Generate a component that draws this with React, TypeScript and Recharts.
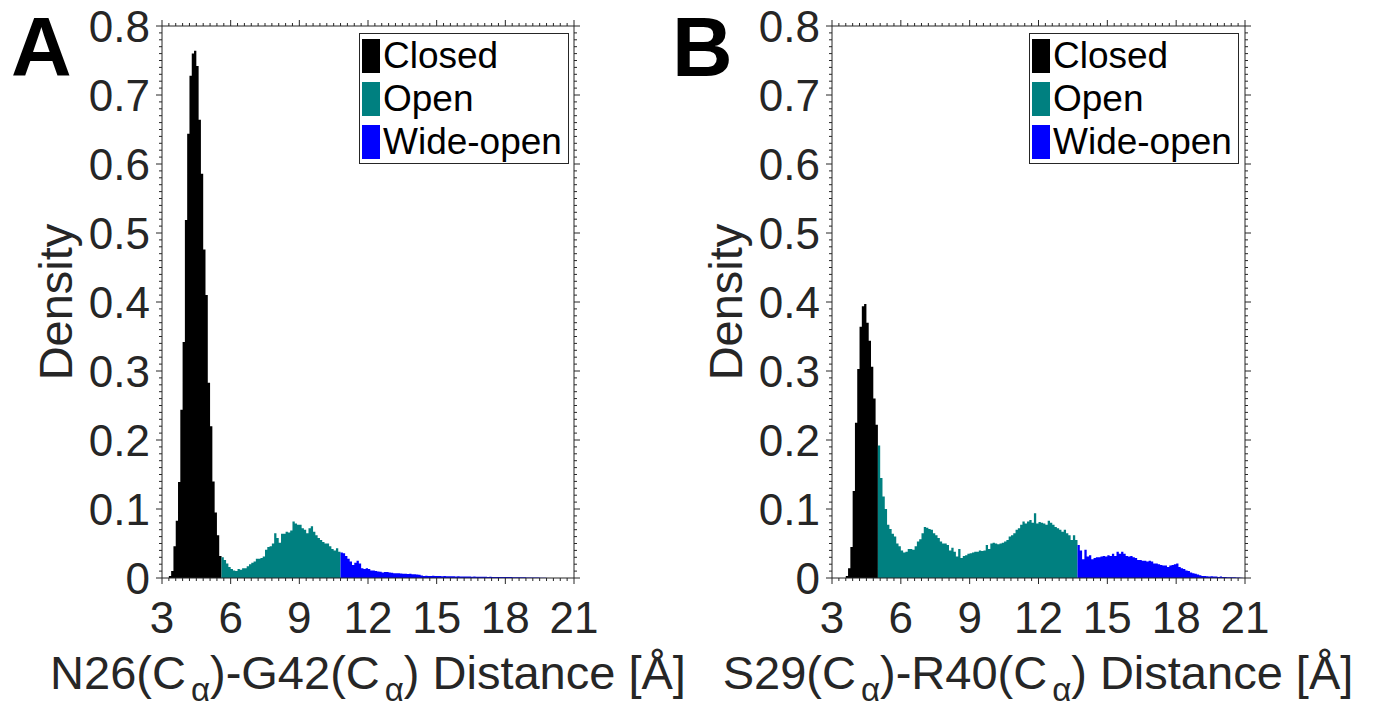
import React from 'react';
import { ComposedChart, Area, XAxis, YAxis, Legend } from 'recharts';

const FONT = '"Liberation Sans", Arial, Helvetica, sans-serif';
const INK = '#262626';

// ---------- series meta ----------
const SERIES = [
  { key: 'closed', name: 'Closed', color: '#000000' },
  { key: 'open', name: 'Open', color: '#008080' },
  { key: 'wide', name: 'Wide-open', color: '#0000FF' },
];

// ---------- axes ----------
const X_DOMAIN: [number, number] = [3, 21];
const Y_DOMAIN: [number, number] = [0, 0.8];
const X_TICK_LABELS = [3, 6, 9, 12, 15, 18, 21];
const Y_TICK_LABELS = [0, 0.1, 0.2, 0.3, 0.4, 0.5, 0.6, 0.7, 0.8];
const BIN_WIDTH = 0.1;

// ---------- Panel A: N26(Ca)-G42(Ca) density (bin left edges, 0.1 Å bins) ----------
const A_CLOSED_FROM = 3.3;
const A_CLOSED = [
  0.003, 0.010, 0.046, 0.083, 0.139, 0.244, 0.342, 0.519, 0.644, 0.728,
  0.760, 0.764, 0.742, 0.664, 0.586, 0.476, 0.410, 0.283, 0.220, 0.140,
  0.095, 0.062, 0.032,
];
const A_OPEN_FROM = 5.6;
const A_OPEN = [
  0.030, 0.026, 0.021, 0.016, 0.013, 0.011, 0.010, 0.013, 0.012, 0.014,
  0.014, 0.017, 0.020, 0.022, 0.024, 0.028, 0.028, 0.029, 0.031, 0.041,
  0.045, 0.046, 0.050, 0.065, 0.058, 0.051, 0.064, 0.064, 0.067, 0.066,
  0.069, 0.082, 0.079, 0.077, 0.077, 0.072, 0.070, 0.065, 0.072, 0.075,
  0.067, 0.062, 0.058, 0.055, 0.052, 0.050, 0.050, 0.046, 0.042, 0.040,
  0.043, 0.038,
];
const A_WIDE_FROM = 10.8;
const A_WIDE = [
  0.037, 0.036, 0.032, 0.028, 0.024, 0.019, 0.022, 0.025, 0.021, 0.014,
  0.013, 0.014, 0.013, 0.011, 0.011, 0.010, 0.0095, 0.009, 0.008, 0.0087,
  0.0088, 0.008, 0.0075, 0.007, 0.007, 0.0068, 0.0066, 0.0063, 0.006, 0.0058,
  0.006, 0.0055, 0.0053, 0.005, 0.0048, 0.0035, 0.003, 0.0032, 0.0028, 0.003,
  0.0033, 0.003, 0.0028, 0.003, 0.0026, 0.0028, 0.0025, 0.0024, 0.0026, 0.0024,
  0.0022, 0.0024, 0.0022, 0.0021, 0.002, 0.0021, 0.002, 0.0019, 0.002, 0.0018,
  0.0019, 0.0018, 0.0017, 0.0018, 0.0016, 0.0017, 0.0016, 0.0015, 0.0016, 0.0015,
  0.0015, 0.0014, 0.0014, 0.0013, 0.0013, 0.0012, 0.0012, 0.0011, 0.0011, 0.001,
  0.001, 0.0009, 0.0009, 0.0008, 0.0008, 0.0007, 0.0006, 0.0005, 0.0004, 0.0003,
];

// ---------- Panel B: S29(Ca)-R40(Ca) density ----------
const B_CLOSED_FROM = 3.6;
const B_CLOSED = [
  0.003, 0.014, 0.045, 0.126, 0.225, 0.303, 0.364, 0.394, 0.397, 0.370,
  0.344, 0.306, 0.260, 0.222,
];
const B_OPEN_FROM = 5.0;
const B_OPEN = [
  0.192, 0.145, 0.118, 0.100, 0.077, 0.071, 0.064, 0.060, 0.050, 0.046,
  0.040, 0.037, 0.038, 0.042, 0.042, 0.041, 0.046, 0.053, 0.056, 0.065,
  0.074, 0.073, 0.071, 0.070, 0.065, 0.062, 0.058, 0.053, 0.050, 0.050,
  0.048, 0.040, 0.044, 0.038, 0.031, 0.042, 0.029, 0.032, 0.033, 0.035,
  0.036, 0.037, 0.038, 0.038, 0.040, 0.039, 0.040, 0.048, 0.042, 0.050,
  0.051, 0.050, 0.049, 0.050, 0.051, 0.053, 0.055, 0.060, 0.062, 0.065,
  0.070, 0.072, 0.077, 0.082, 0.079, 0.082, 0.084, 0.080, 0.094, 0.079,
  0.081, 0.080, 0.079, 0.077, 0.083, 0.080, 0.077, 0.074, 0.072, 0.070,
  0.067, 0.070, 0.065, 0.062, 0.055, 0.062, 0.055,
];
const B_WIDE_FROM = 13.7;
const B_WIDE = [
  0.048, 0.040, 0.027, 0.041, 0.031, 0.033, 0.027, 0.029, 0.030, 0.030,
  0.031, 0.032, 0.031, 0.033, 0.032, 0.035, 0.032, 0.038, 0.035, 0.038,
  0.035, 0.032, 0.031, 0.032, 0.030, 0.029, 0.026, 0.026, 0.025, 0.025,
  0.024, 0.025, 0.024, 0.021, 0.021, 0.020, 0.019, 0.018, 0.018, 0.016,
  0.018, 0.019, 0.020, 0.021, 0.016, 0.014, 0.013, 0.011, 0.010, 0.008,
  0.007, 0.006, 0.005, 0.004, 0.003, 0.003, 0.0025, 0.002, 0.0025, 0.002,
  0.002, 0.0015, 0.002, 0.0015, 0.0015, 0.001, 0.0012, 0.001, 0.001, 0.0008,
  0.0008, 0.0005,
];

type Part = { key: string; from: number; values: number[] };

function buildRows(parts: Part[]) {
  const n = Math.round((X_DOMAIN[1] - X_DOMAIN[0]) / BIN_WIDTH);
  const rows: any[] = [];
  for (let k = 0; k <= n; k++) {
    const x = Math.round((X_DOMAIN[0] + k * BIN_WIDTH) * 10) / 10;
    const row: any = { x };
    parts.forEach((p) => {
      const idx = Math.round((x - p.from) / BIN_WIDTH);
      const v = idx >= 0 && idx < p.values.length && k < n ? p.values[idx] : 0;
      row[p.key] = v;
    });
    rows.push(row);
  }
  return rows;
}

const ROWS_A = buildRows([
  { key: 'closed', from: A_CLOSED_FROM, values: A_CLOSED },
  { key: 'open', from: A_OPEN_FROM, values: A_OPEN },
  { key: 'wide', from: A_WIDE_FROM, values: A_WIDE },
]);
const ROWS_B = buildRows([
  { key: 'closed', from: B_CLOSED_FROM, values: B_CLOSED },
  { key: 'open', from: B_OPEN_FROM, values: B_OPEN },
  { key: 'wide', from: B_WIDE_FROM, values: B_WIDE },
]);

// minor tick positions (every 0.3 Å on x, every 0.01 on y)
const X_ALL_TICKS = Array.from({ length: 61 }, (_, i) => Math.round((3 + 0.3 * i) * 10) / 10);
const Y_ALL_TICKS = Array.from({ length: 81 }, (_, i) => Math.round(i) / 100);

const TICK_FONT = 44;
const MAJOR = 6;
const MINOR = 3;

const isXMajor = (v: number) => X_TICK_LABELS.some((t) => Math.abs(t - v) < 1e-6);
const isYMajor = (v: number) => Y_TICK_LABELS.some((t) => Math.abs(t - v) < 1e-6);

function BottomTick(props: any) {
  const { x, y, payload } = props;
  const major = isXMajor(payload.value);
  return (
    <g>
      <line x1={x} x2={x} y1={y} y2={y + (major ? MAJOR : MINOR)} stroke={INK} strokeWidth={1} />
      {major && (
        <text x={x} y={y + 55} textAnchor="middle" fontSize={TICK_FONT} fontFamily={FONT} fill={INK}>
          {payload.value}
        </text>
      )}
    </g>
  );
}
function TopTick(props: any) {
  const { x, y, payload } = props;
  const major = isXMajor(payload.value);
  return <line x1={x} x2={x} y1={y} y2={y - (major ? MAJOR : MINOR)} stroke={INK} strokeWidth={1} />;
}
function LeftTick(props: any) {
  const { x, y, payload } = props;
  const major = isYMajor(payload.value);
  return (
    <g>
      <line x1={x} x2={x - (major ? MAJOR : MINOR)} y1={y} y2={y} stroke={INK} strokeWidth={1} />
      {major && (
        <text x={x - 12} y={y + 15.5} textAnchor="end" fontSize={TICK_FONT} fontFamily={FONT} fill={INK}>
          {payload.value}
        </text>
      )}
    </g>
  );
}
function RightTick(props: any) {
  const { x, y, payload } = props;
  const major = isYMajor(payload.value);
  return <line x1={x} x2={x + (major ? MAJOR : MINOR)} y1={y} y2={y} stroke={INK} strokeWidth={1} />;
}

function LegendBox() {
  return (
    <div
      style={{
        border: '1px solid ' + INK,
        background: '#fff',
        width: 210,
        height: 131,
        boxSizing: 'border-box',
        paddingLeft: 2,
      }}
    >
      {SERIES.map((s) => (
        <div key={s.key} style={{ display: 'flex', alignItems: 'center', height: 43 }}>
          <span style={{ display: 'inline-block', width: 18, height: 34, background: s.color, marginRight: 3 }} />
          <span style={{ fontSize: 37, fontFamily: FONT, color: '#000', lineHeight: 1, whiteSpace: 'nowrap' }}>
            {s.name}
          </span>
        </div>
      ))}
    </div>
  );
}

const CHART_W = 690;
const CHART_H = 711;

function Panel({ rows, left, plotRight }: { rows: any[]; left: number; plotRight: number }) {
  const plotLeft = 162;
  const plotTop = 26;
  const plotBottom = 578;
  const yAxisW = 60;
  const rAxisW = 20;
  const xAxisH = 60;
  const tAxisH = 20;
  return (
    <div style={{ position: 'absolute', left, top: 0 }}>
      <ComposedChart
        width={CHART_W}
        height={CHART_H}
        data={rows}
        margin={{
          top: plotTop - tAxisH,
          left: plotLeft - yAxisW,
          right: CHART_W - plotRight - rAxisW,
          bottom: CHART_H - plotBottom - xAxisH,
        }}
      >
        <XAxis
          xAxisId="b"
          dataKey="x"
          type="number"
          domain={X_DOMAIN}
          allowDataOverflow
          ticks={X_ALL_TICKS}
          interval={0}
          tickSize={0}
          tickMargin={0}
          tickLine={false}
          axisLine={{ stroke: INK, strokeWidth: 1 }}
          tick={(p: any) => <BottomTick {...p} />}
          height={xAxisH}
          orientation="bottom"
        />
        <XAxis
          xAxisId="t"
          dataKey="x"
          type="number"
          domain={X_DOMAIN}
          allowDataOverflow
          ticks={X_ALL_TICKS}
          interval={0}
          tickSize={0}
          tickMargin={0}
          tickLine={false}
          axisLine={{ stroke: INK, strokeWidth: 1 }}
          tick={(p: any) => <TopTick {...p} />}
          height={tAxisH}
          orientation="top"
        />
        <YAxis
          yAxisId="l"
          type="number"
          domain={Y_DOMAIN}
          allowDataOverflow
          ticks={Y_ALL_TICKS}
          interval={0}
          tickSize={0}
          tickMargin={0}
          tickLine={false}
          axisLine={{ stroke: INK, strokeWidth: 1 }}
          tick={(p: any) => <LeftTick {...p} />}
          width={yAxisW}
          orientation="left"
        />
        <YAxis
          yAxisId="r"
          type="number"
          domain={Y_DOMAIN}
          allowDataOverflow
          ticks={Y_ALL_TICKS}
          interval={0}
          tickSize={0}
          tickMargin={0}
          tickLine={false}
          axisLine={{ stroke: INK, strokeWidth: 1 }}
          tick={(p: any) => <RightTick {...p} />}
          width={rAxisW}
          orientation="right"
        />
        {SERIES.map((s) => (
          <Area
            key={s.key}
            xAxisId="b"
            yAxisId="l"
            dataKey={s.key}
            name={s.name}
            type="stepAfter"
            stroke="none"
            fill={s.color}
            fillOpacity={1}
            dot={false}
            activeDot={false}
            isAnimationActive={false}
          />
        ))}
        <Legend
          layout="vertical"
          align="center"
          verticalAlign="middle"
          wrapperStyle={{ left: 359, top: 33, width: 210, height: 131 }}
          content={() => <LegendBox />}
        />
      </ComposedChart>
    </div>
  );
}

function XTitle({ cx, a, b }: { cx: number; a: string; b: string }) {
  return (
    <text x={cx} y={689} textAnchor="middle" fontSize={47} fontFamily={FONT} fill={INK}>
      <tspan>{a}(C</tspan>
      <tspan dx={5} dy={12} fontSize={33}>α</tspan>
      <tspan dy={-12}>)-{b}(C</tspan>
      <tspan dx={5} dy={12} fontSize={33}>α</tspan>
      <tspan dy={-12}>) Distance [Å]</tspan>
    </text>
  );
}

export default function App() {
  return (
    <div style={{ position: 'absolute', left: 0, top: 0, width: 1374, height: 711, background: '#fff', overflow: 'hidden' }}>
      <Panel rows={ROWS_A} left={0} plotRight={574} />
      <Panel rows={ROWS_B} left={670} plotRight={575} />
      <svg width={1374} height={711} style={{ position: 'absolute', left: 0, top: 0, pointerEvents: 'none' }}>
        <text x={11} y={76} fontSize={84} fontWeight="bold" fontFamily={FONT} fill="#000">A</text>
        <text x={672} y={76} fontSize={84} fontWeight="bold" fontFamily={FONT} fill="#000">B</text>
        <text transform="translate(72,302) rotate(-90)" textAnchor="middle" fontSize={47} fontFamily={FONT} fill={INK}>Density</text>
        <text transform="translate(742,302) rotate(-90)" textAnchor="middle" fontSize={47} fontFamily={FONT} fill={INK}>Density</text>
        <XTitle cx={368} a="N26" b="G42" />
        <XTitle cx={1038} a="S29" b="R40" />
      </svg>
    </div>
  );
}
